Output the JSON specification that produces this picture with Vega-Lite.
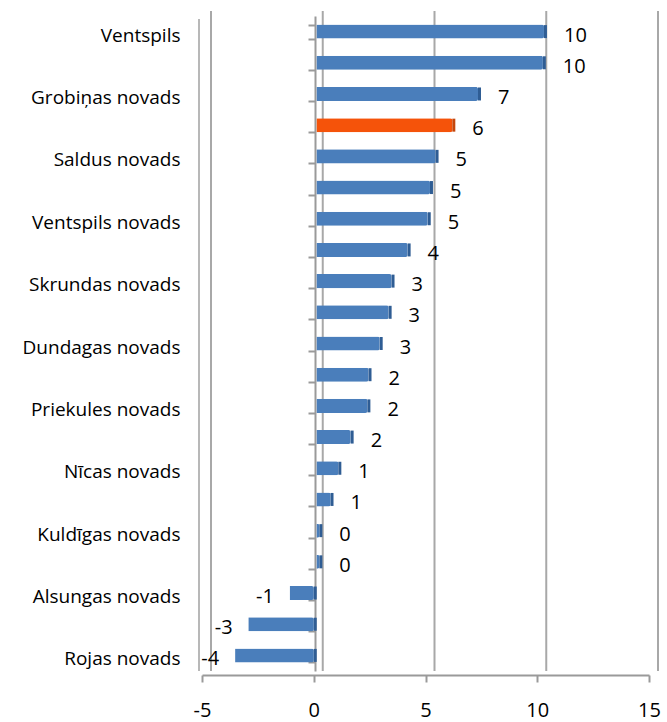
{
  "$schema": "https://vega.github.io/schema/vega-lite/v6.json",
  "width": 447,
  "height": 655,
  "autosize": {"type": "none"},
  "padding": {"left": 202, "top": 16, "right": 18, "bottom": 51},
  "background": "white",
  "config": {
    "view": {"stroke": null},
    "font": "Open Sans",
    "locale": {"number": {"decimal": ".", "thousands": ",", "grouping": [3], "currency": ["$", ""], "minus": "-"}}
  },
  "datasets": {
    "rows": [
      {"key": "Ventspils", "value": 10.3, "hl": "no"},
      {"key": "#2", "value": 10.25, "hl": "no"},
      {"key": "Grobiņas novads", "value": 7.35, "hl": "no"},
      {"key": "#4", "value": 6.2, "hl": "yes"},
      {"key": "Saldus novads", "value": 5.45, "hl": "no"},
      {"key": "#6", "value": 5.2, "hl": "no"},
      {"key": "Ventspils novads", "value": 5.1, "hl": "no"},
      {"key": "#8", "value": 4.2, "hl": "no"},
      {"key": "Skrundas novads", "value": 3.48, "hl": "no"},
      {"key": "#10", "value": 3.35, "hl": "no"},
      {"key": "Dundagas novads", "value": 2.95, "hl": "no"},
      {"key": "#12", "value": 2.45, "hl": "no"},
      {"key": "Priekules novads", "value": 2.4, "hl": "no"},
      {"key": "#14", "value": 1.65, "hl": "no"},
      {"key": "Nīcas novads", "value": 1.1, "hl": "no"},
      {"key": "#16", "value": 0.75, "hl": "no"},
      {"key": "Kuldīgas novads", "value": 0.25, "hl": "no"},
      {"key": "#18", "value": 0.25, "hl": "no"},
      {"key": "Alsungas novads", "value": -1.2, "hl": "no"},
      {"key": "#20", "value": -3.05, "hl": "no"},
      {"key": "Rojas novads", "value": -3.65, "hl": "no"}
    ],
    "grid": [{"g": -5}, {"g": 0}, {"g": 5}, {"g": 10}, {"g": 15}],
    "wall": [{"g": -5}]
  },
  "resolve": {"axis": {"y": "independent", "x": "shared"}},
  "layer": [
    {
      "data": {"name": "grid"},
      "mark": {"type": "rule", "color": "#a8a8a8", "strokeWidth": 2, "xOffset": 9, "yOffset": -5},
      "encoding": {
        "x": {
          "field": "g", "type": "quantitative", "scale": {"domain": [-5, 15], "nice": false, "zero": false},
          "axis": {
            "title": null, "values": [-5, 0, 5, 10, 15], "grid": false, "labelFlush": false,
            "domainColor": "#9a9a9a", "domainWidth": 2, "tickColor": "#9a9a9a", "tickWidth": 2, "tickSize": 7,
            "labelFontSize": 20, "labelColor": "#000000", "labelPadding": 18, "offset": 4, "format": "d"
          }
        }
      }
    },
    {
      "data": {"name": "wall"},
      "mark": {"type": "rule", "color": "#b8b8b8", "strokeWidth": 2, "xOffset": -3, "yOffset": 3},
      "encoding": {
        "x": {"field": "g", "type": "quantitative"}
      }
    },
    {
      "data": {"name": "rows"},
      "mark": {"type": "bar", "xOffset": 3, "cornerRadius": 2},
      "encoding": {
        "y": {
          "field": "key", "type": "nominal", "sort": null,
          "scale": {"paddingInner": 0.55, "paddingOuter": 0.275},
          "axis": {
            "title": null, "domain": false, "ticks": false, "grid": false,
            "labelFontSize": 19, "labelColor": "#000000", "labelPadding": 22, "labelOffset": 4,
            "labelExpr": "slice(datum.label, 0, 1) == '#' ? '' : datum.label"
          }
        },
        "x": {"field": "value", "type": "quantitative"},
        "color": {
          "field": "hl", "type": "nominal",
          "scale": {"domain": ["no", "yes"], "range": ["#4a7ebb", "#f5530a"]},
          "legend": null
        }
      }
    },
    {
      "data": {"name": "rows"},
      "transform": [{"filter": "datum.value >= 0"}],
      "mark": {"type": "tick", "orient": "vertical", "thickness": 3, "size": 13, "xOffset": 1.5, "opacity": 1},
      "encoding": {
        "y": {"field": "key", "type": "nominal", "sort": null, "axis": null},
        "x": {"field": "value", "type": "quantitative"},
        "color": {"condition": {"test": "datum.hl == 'yes'", "value": "#c4460c"}, "value": "#2f5d94"}
      }
    },
    {
      "data": {"name": "rows"},
      "transform": [{"filter": "datum.value < 0"}],
      "mark": {"type": "tick", "orient": "vertical", "thickness": 3, "size": 13, "xOffset": 1.5, "opacity": 1, "color": "#2f5d94"},
      "encoding": {
        "y": {"field": "key", "type": "nominal", "sort": null, "axis": null},
        "x": {"datum": 0, "type": "quantitative"}
      }
    },
    {
      "data": {"name": "rows"},
      "transform": [{"filter": "datum.value >= 0"}],
      "mark": {"type": "text", "align": "left", "baseline": "middle", "dx": 20, "dy": 4, "fontSize": 20, "color": "#000000"},
      "encoding": {
        "y": {
          "field": "key", "type": "nominal", "sort": null,
          "axis": {
            "orient": "left", "offset": -113, "title": null, "labels": false, "grid": false,
            "domain": true, "domainColor": "#9a9a9a", "domainWidth": 2,
            "ticks": true, "tickBand": "extent", "tickColor": "#9a9a9a", "tickWidth": 2, "tickSize": 7
          }
        },
        "x": {"field": "value", "type": "quantitative"},
        "text": {"field": "value", "type": "quantitative", "format": ".0f"}
      }
    },
    {
      "data": {"name": "rows"},
      "transform": [{"filter": "datum.value < 0"}],
      "mark": {"type": "text", "align": "right", "baseline": "middle", "dx": -13, "dy": 4, "fontSize": 20, "color": "#000000"},
      "encoding": {
        "y": {"field": "key", "type": "nominal", "sort": null, "axis": null},
        "x": {"field": "value", "type": "quantitative"},
        "text": {"field": "value", "type": "quantitative", "format": ".0f"}
      }
    }
  ]
}
